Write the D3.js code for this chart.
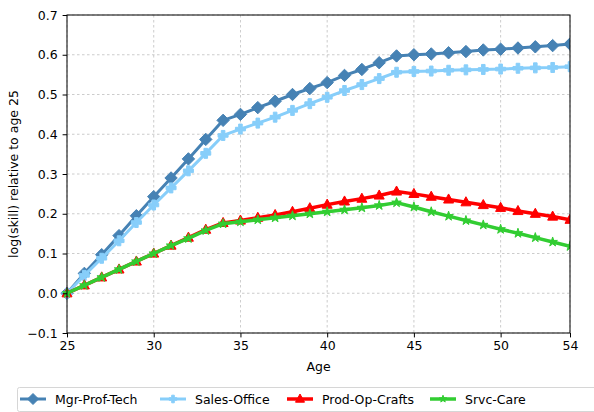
<!DOCTYPE html>
<html><head><meta charset="utf-8">
<script src="https://cdn.jsdelivr.net/npm/d3@7"></script>
<style>body{margin:0;background:#fff}svg{font-family:"DejaVu Sans",sans-serif}</style>
</head><body><svg id="c" width="594" height="412"></svg>
<script>
const ages = d3.range(25, 55);
const mgrProfTech = [0,0.05,0.097,0.145,0.195,0.243,0.29,0.338,0.387,0.435,0.45,0.467,0.483,0.5,0.515,0.53,0.548,0.563,0.58,0.597,0.6,0.602,0.605,0.608,0.612,0.614,0.617,0.62,0.623,0.627];
const salesOffice = [0,0.045,0.088,0.132,0.178,0.222,0.265,0.308,0.352,0.397,0.413,0.428,0.443,0.46,0.477,0.493,0.51,0.525,0.54,0.556,0.558,0.559,0.561,0.562,0.563,0.564,0.566,0.567,0.568,0.57];
const prodOpCrafts = [0,0.02,0.04,0.06,0.08,0.1,0.12,0.14,0.16,0.177,0.183,0.19,0.197,0.205,0.214,0.223,0.231,0.238,0.246,0.256,0.25,0.243,0.236,0.229,0.222,0.215,0.207,0.2,0.193,0.185];
const srvcCare = [0,0.02,0.04,0.06,0.08,0.1,0.12,0.138,0.158,0.175,0.18,0.185,0.19,0.195,0.2,0.205,0.21,0.215,0.221,0.228,0.217,0.205,0.194,0.183,0.172,0.161,0.151,0.14,0.129,0.118];
const seriesNames = ["Mgr-Prof-Tech","Sales-Office","Prod-Op-Crafts","Srvc-Care"];
const xTicks = [25,30,35,40,45,50,54];
const yTicks = [-0.1,0,0.1,0.2,0.3,0.4,0.5,0.6,0.7];

const colors = ["#4682b4","#87cefa","#ff0000","#32cd32"];
const lw = [3,3,3.5,3.5];
const valuesList = [mgrProfTech, salesOffice, prodOpCrafts, srvcCare];
const FS = 12.5;

const L=67,R=570,T=15,B=333;
const x = d3.scaleLinear().domain([25,54]).range([L,R]);
const y = d3.scaleLinear().domain([-0.1,0.7]).range([B,T]);
const svg = d3.select("#c");

// grid
svg.append("g").selectAll("line").data(xTicks).join("line")
  .attr("x1",d=>x(d)).attr("x2",d=>x(d)).attr("y1",T).attr("y2",B)
  .attr("stroke","#b0b0b0").attr("stroke-width",0.8).attr("stroke-dasharray","2.5,2.5").attr("opacity",0.8);
svg.append("g").selectAll("line").data(yTicks).join("line")
  .attr("y1",d=>y(d)).attr("y2",d=>y(d)).attr("x1",L).attr("x2",R)
  .attr("stroke","#b0b0b0").attr("stroke-width",0.8).attr("stroke-dasharray","2.5,2.5").attr("opacity",0.8);

function markerPath(i){
  if(i===0){const r=6.2;return `M0,${-r}L${r},0L0,${r}L${-r},0Z`;}
  if(i===1){const a=5,b=1.8;return `M${-b},${-a}H${b}V${-b}H${a}V${b}H${b}V${a}H${-b}V${b}H${-a}V${-b}H${-b}Z`;}
  if(i===2){return "M0,-5.5L5,3.6L-5,3.6Z";}
  return d3.symbol(d3.symbolStar,28)();
}
function legendMarker(i){
  if(i===0){const r=5.5;return `M0,${-r}L${r},0L0,${r}L${-r},0Z`;}
  if(i===1){const a=3.8,b=1.3;return `M${-b},${-a}H${b}V${-b}H${a}V${b}H${b}V${a}H${-b}V${b}H${-a}V${-b}H${-b}Z`;}
  if(i===2){return "M0,-5L4.5,3.2L-4.5,3.2Z";}
  return d3.symbol(d3.symbolStar,16)();
}

const line = d3.line().x((d,i)=>x(ages[i])).y(d=>y(d));
svg.append("defs").append("clipPath").attr("id","cp").append("rect")
  .attr("x",L-8).attr("y",T).attr("width",R-L+8).attr("height",B-T);
const plot = svg.append("g").attr("clip-path","url(#cp)");
valuesList.forEach((vals,i)=>{
  const g = plot.append("g");
  g.append("path").attr("d",line(vals)).attr("fill","none").attr("stroke",colors[i]).attr("stroke-width",lw[i]).attr("stroke-linejoin","round");
  g.selectAll("path.m").data(vals).join("path").attr("class","m")
    .attr("transform",(d,k)=>`translate(${x(ages[k])},${y(d)})`)
    .attr("d",markerPath(i)).attr("fill",colors[i]).attr("stroke",colors[i]).attr("stroke-width",1);
});

// axes
const xa = svg.append("g").attr("transform",`translate(0,${B})`)
  .call(d3.axisBottom(x).tickValues(xTicks).tickFormat(d3.format("d")).tickSize(4.4).tickPadding(4));
const ya = svg.append("g").attr("transform",`translate(${L},0)`)
  .call(d3.axisLeft(y).tickValues(yTicks).tickFormat(d=>d<0?"\u2212"+Math.abs(d).toFixed(1):d.toFixed(1)).tickSize(4.4).tickPadding(5));
[xa,ya].forEach(a=>{a.selectAll("text").attr("font-size",FS).attr("fill","#000").attr("font-family","DejaVu Sans");
  a.selectAll("line").attr("stroke","#000").attr("stroke-width",1);a.select(".domain").remove();});
svg.append("rect").attr("x",L).attr("y",T).attr("width",R-L).attr("height",B-T)
  .attr("fill","none").attr("stroke","#000").attr("stroke-width",1);

svg.append("text").attr("x",(L+R)/2).attr("y",371).attr("text-anchor","middle").attr("font-size",FS).text("Age");
svg.append("text").attr("transform",`translate(18,${(T+B)/2}) rotate(-90)`).attr("text-anchor","middle").attr("font-size",FS).text("log(skill) relative to age 25");

// legend
const lg = svg.append("g");
lg.append("rect").attr("x",17.5).attr("y",387.5).attr("width",600).attr("height",24).attr("rx",2)
  .attr("fill","#fff").attr("stroke","#ccc").attr("stroke-width",0.8);
const lx = [20,160,287,430];
seriesNames.forEach((n,i)=>{
  const g = lg.append("g").attr("transform",`translate(${lx[i]},399)`);
  g.append("line").attr("x1",0).attr("x2",26).attr("stroke",colors[i]).attr("stroke-width",lw[i]);
  g.append("path").attr("transform","translate(13,0)").attr("d",legendMarker(i)).attr("fill",colors[i]).attr("stroke",colors[i]).attr("stroke-width",1);
  g.append("text").attr("x",35).attr("y",4.5).attr("font-size",FS).text(n);
});
</script></body></html>
